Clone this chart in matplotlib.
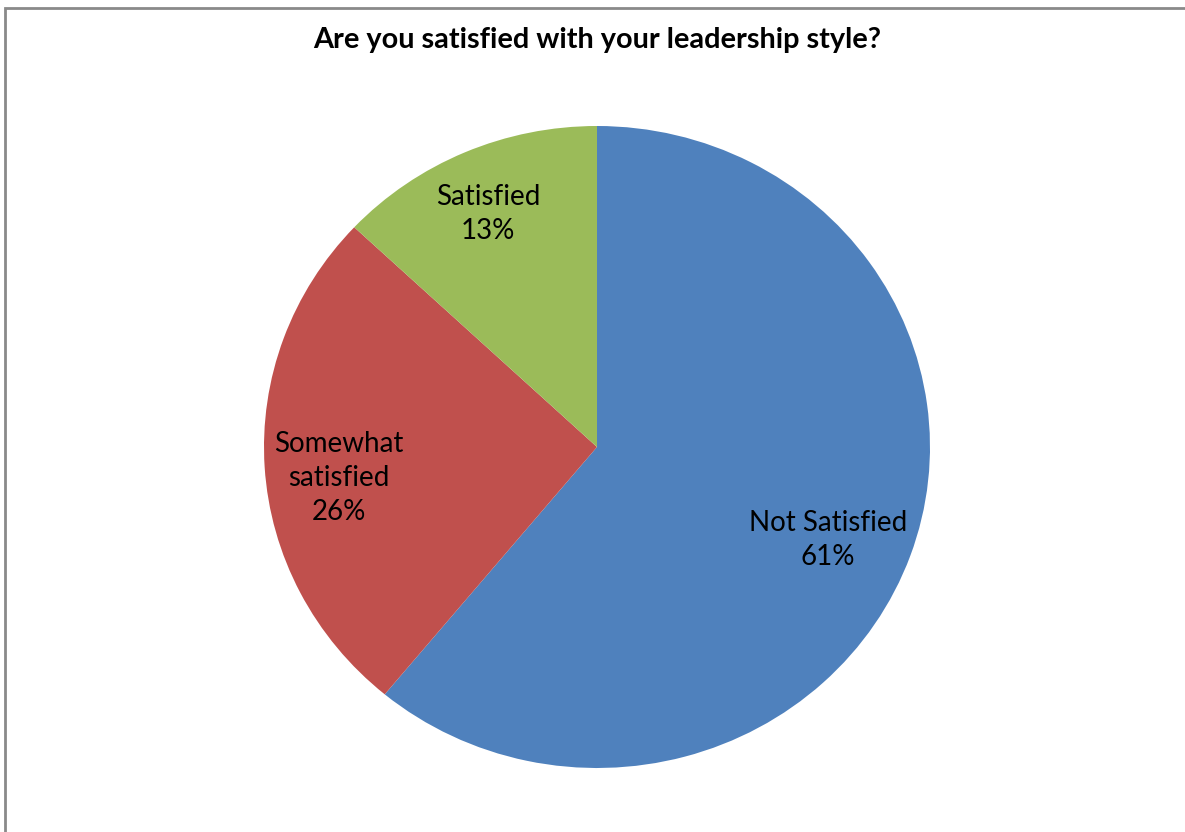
import matplotlib
matplotlib.use("Agg")
import matplotlib.pyplot as plt
from matplotlib.patches import Rectangle
import numpy as np

categories = ["Not Satisfied", "Somewhat\nsatisfied", "Satisfied"]
values = [61, 26, 13]
colors = ["#4F81BD", "#C0504D", "#9BBB59"]
title = "Are you satisfied with your leadership style?"

W, H = 1185, 832
fig = plt.figure(figsize=(W / 100, H / 100), dpi=100)
fig.patch.set_facecolor("white")

# outer chart-area border (cropped on right/bottom)
fig.add_artist(Rectangle((5 / W, -0.05), 1.2, 1 - 8 / H + 0.05,
                         transform=fig.transFigure, fill=False,
                         edgecolor="#8a8a8a", linewidth=2.0))

cx, cy, rx, ry = 597, 447, 333, 321
ax = fig.add_axes([(cx - rx) / W, (H - cy - ry) / H, 2 * rx / W, 2 * ry / H])
wedges, _ = ax.pie(values, colors=colors, startangle=90, counterclock=False,
                   wedgeprops=dict(linewidth=0))
ax.set_aspect("auto")
ax.set_xlim(-1, 1)
ax.set_ylim(-1, 1)
ax.axis("off")

# label placement (distance from centre, angular nudge in degrees)
dists = [0.752, 0.781, 0.796]
nudges = [-2.9, 3.5, 0.9]
for w, cat, v, d, n in zip(wedges, categories, values, dists, nudges):
    ang = np.deg2rad((w.theta1 + w.theta2) / 2 + n)
    ax.text(d * np.cos(ang), d * np.sin(ang), f"{cat}\n{v}%",
            ha="center", va="center", fontsize=20, family="Lato",
            color="black", linespacing=1.4)

fig.text(cx / W, 1 - 40 / H, title, ha="center", va="center",
         fontsize=20.8, fontweight="bold", family="Lato", color="black")

fig.savefig("out.png", dpi=100)
